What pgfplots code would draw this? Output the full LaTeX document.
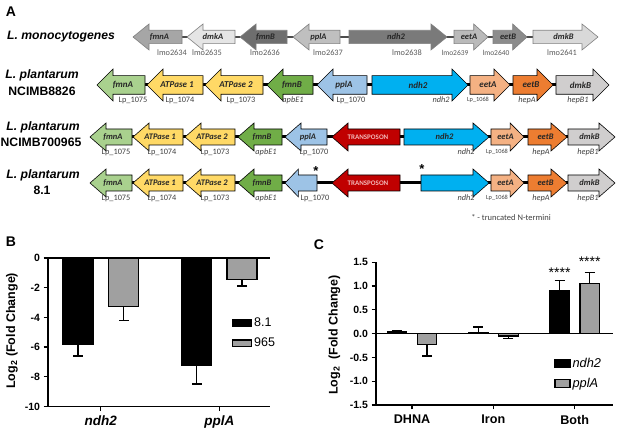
\documentclass[border=0pt]{standalone}
\usepackage{pgfplots}
\pgfplotsset{compat=1.18}
\usepackage{fontspec}
\setmainfont{Liberation Sans}
\newfontfamily\calfont{Carlito}
\definecolor{lgreen}{HTML}{A9D18E}
\definecolor{ayellow}{HTML}{FFD966}
\definecolor{dgreen}{HTML}{70AD47}
\definecolor{lblue}{HTML}{9DC3E6}
\definecolor{cyan2}{HTML}{00B0F0}
\definecolor{peach}{HTML}{F4B183}
\definecolor{orng}{HTML}{ED7D31}
\definecolor{lgray}{HTML}{D0CECE}
\definecolor{tred}{HTML}{C00000}
\definecolor{pinktxt}{HTML}{F2B8B8}
\definecolor{locgray}{HTML}{404040}
\definecolor{loc1}{HTML}{5A5A5A}
\definecolor{barg}{HTML}{A0A0A0}
% #1 tail, #2 tip, #3 y, #4 head half height, #5 body half height, #6 fill, #7 draw, #8 label
\newcommand{\gene}[8]{%
\draw[fill=#6,draw=#7,line width=0.6pt,line join=miter]
 (#1,{#3-#5}) -- ({#2-sign(#2-#1)*min(16,0.42*abs(#2-#1))},{#3-#5})
 -- ({#2-sign(#2-#1)*min(16,0.42*abs(#2-#1))},{#3-#4}) -- (#2,#3)
 -- ({#2-sign(#2-#1)*min(16,0.42*abs(#2-#1))},{#3+#4})
 -- ({#2-sign(#2-#1)*min(16,0.42*abs(#2-#1))},{#3+#5}) -- (#1,{#3+#5}) -- cycle;
\node[inner sep=0pt,text=black!85] at ({(#1+#2)/2-sign(#2-#1)*2},#3) {#8};}
\newcommand{\ga}[1]{{\calfont\bfseries\itshape\fontsize{8.5}{9}\selectfont #1}}
\newcommand{\gb}[1]{{\calfont\bfseries\itshape\fontsize{9}{10}\selectfont #1}}
\newcommand{\gc}[1]{{\calfont\bfseries\itshape\fontsize{8.5}{9}\selectfont #1}}
\newcommand{\tp}{{\calfont\bfseries\fontsize{7}{8}\selectfont\color{pinktxt}TRANSPOSON}}
\newcommand{\lc}[3]{\node[inner sep=0pt,text=locgray,font=\calfont\fontsize{8.3}{9}\selectfont] at (#1,#2) {#3};}
\newcommand{\lci}[3]{\node[inner sep=0pt,text=locgray,font=\calfont\itshape\fontsize{8.3}{9}\selectfont] at (#1,#2) {#3};}
\newcommand{\lcs}[3]{\node[inner sep=0pt,text=locgray,font=\calfont\fontsize{6.3}{7}\selectfont] at (#1,#2) {#3};}
\newcommand{\lo}[3]{\node[inner sep=0pt,text=loc1,font=\calfont\fontsize{8.3}{9}\selectfont] at (#1,#2) {#3};}
\newcommand{\rn}[3]{\node[inner sep=0pt,font=\fontsize{12.2}{13}\selectfont\bfseries\itshape] at (#1,#2) {#3};}
\newcommand{\rb}[3]{\node[inner sep=0pt,font=\fontsize{12.2}{13}\selectfont\bfseries] at (#1,#2) {#3};}
\pgfplotsset{
 gpstyle/.style={
  scale only axis, clip=false,
  axis x line=bottom, axis y line=left,
  axis line style={-,line width=1.2pt,black},
  tick align=outside, major tick length=4.5pt,
  tick style={line width=1.2pt,black},
  ybar,
  legend cell align=left,
  legend style={draw=none,fill=none,inner sep=0pt,outer sep=0pt,anchor=north west},
 },
 ebar/.style={error bars/.cd, y explicit, y dir=#1,
  error bar style={line width=1.2pt,black},
  error mark options={rotate=90,mark size=5pt,line width=1.2pt,black}},
}
\begin{document}
\begin{tikzpicture}
\path[use as bounding box] (0,0) rectangle (617pt,430pt);
\begin{scope}[x=1pt,y=-1pt,shift={(0pt,430pt)}]
% panel letters
\node[inner sep=0pt,font=\fontsize{14}{15}\selectfont\bfseries] at (11,12) {A};
\node[inner sep=0pt,font=\fontsize{14}{15}\selectfont\bfseries] at (11,242) {B};
\node[inner sep=0pt,font=\fontsize{14}{15}\selectfont\bfseries] at (319,245) {C};
% row names
\rn{61}{37}{L. monocytogenes}
\rn{42}{75}{L. plantarum}\rb{42}{91}{NCIMB8826}
\rn{43}{127}{L. plantarum}\rb{41}{142}{NCIMB700965}
\rn{43}{175}{L. plantarum}\rb{42}{190}{8.1}
% row 1
\draw[line width=1.5pt,black!70] (182,37) -- (533,37);
\gene{182}{133}{37}{13}{6.7}{black!35}{black!50}{\ga{fmnA}}
\gene{235}{187}{37}{13}{6.7}{black!10}{black!50}{\ga{dmkA}}
\gene{287}{240}{37}{13}{6.7}{black!57}{black!50}{\ga{fmnB}}
\gene{340}{293}{37}{13}{6.7}{black!25}{black!50}{\ga{pplA}}
\gene{349}{447}{37}{13}{6.7}{black!52}{black!50}{\ga{ndh2}}
\gene{454}{488}{37}{13}{6.7}{black!27}{black!50}{\ga{eetA}}
\gene{493}{527}{37}{13}{6.7}{black!45}{black!50}{\ga{eetB}}
\gene{533}{598}{37}{13}{6.7}{black!15}{black!50}{\ga{dmkB}}
\lo{172}{53}{lmo2634}\lo{207}{53}{lmo2635}\lo{265}{53}{lmo2636}\lo{328}{53}{lmo2637}
\lo{407}{53}{lmo2638}\lo{455}{53}{\fontsize{7.5}{8}\selectfont lmo2639}\lo{496}{53}{\fontsize{7.5}{8}\selectfont lmo2640}\lo{562}{53}{lmo2641}
% row 2
\draw[line width=3pt] (145,85) -- (556,85);
\gene{145}{97}{85}{16}{9.3}{lgreen}{black}{\gb{fmnA}}
\gene{203}{147}{85}{16}{9.3}{ayellow}{black}{\gb{ATPase 1}}
\gene{263}{205}{85}{16}{9.3}{ayellow}{black}{\gb{ATPase 2}}
\gene{313}{267}{85}{16}{9.3}{dgreen}{black}{\gb{fmnB}}
\gene{367}{317}{85}{16}{9.3}{lblue}{black}{\gb{pplA}}
\gene{372}{468}{85}{16}{9.3}{cyan2}{black}{\gb{ndh2}}
\gene{470}{510}{85}{16}{9.3}{peach}{black}{\gb{eetA}}
\gene{513}{553}{85}{16}{9.3}{orng}{black}{\gb{eetB}}
\gene{556}{609}{85}{16}{9.3}{lgray}{black}{\gb{dmkB}}
\lc{133}{100}{Lp\_1075}\lc{180}{100}{Lp\_1074}\lc{241}{100}{Lp\_1073}\lci{293}{100}{apbE1}
\lc{351}{100}{Lp\_1070}\lci{441}{100}{ndh2}\lcs{478}{100}{Lp\_1068}\lci{527}{100}{hepA}\lci{578}{100}{hepB1}
% row 3
\draw[line width=3pt] (132,137) -- (568,137);
\gene{132}{90}{137}{14}{8}{lgreen}{black}{\gc{fmnA}}
\gene{183}{133}{137}{14}{8}{ayellow}{black}{\gc{ATPase 1}}
\gene{235}{185}{137}{14}{8}{ayellow}{black}{\gc{ATPase 2}}
\gene{282}{238}{137}{14}{8}{dgreen}{black}{\gc{fmnB}}
\gene{327}{285}{137}{14}{8}{lblue}{black}{\gc{pplA}}
\gene{400}{332}{137}{14}{8}{tred}{black}{\tp}
\gene{404}{489}{137}{14}{8}{cyan2}{black}{\gc{ndh2}}
\gene{491}{524}{137}{14}{8}{peach}{black}{\gc{eetA}}
\gene{528}{567}{137}{14}{8}{orng}{black}{\gc{eetB}}
\gene{568}{615}{137}{14}{8}{lgray}{black}{\gc{dmkB}}
\lc{116}{152}{Lp\_1075}\lc{162}{152}{Lp\_1074}\lc{215}{152}{Lp\_1073}\lci{266}{152}{apbE1}
\lc{314}{152}{Lp\_1070}\lci{466}{152}{ndh2}\lcs{497}{152}{Lp\_1068}\lci{541}{152}{hepA}\lci{588}{152}{hepB1}
% row 4
\draw[line width=3pt] (132,183) -- (568,183);
\gene{132}{90}{183}{14}{8}{lgreen}{black}{\gc{fmnA}}
\gene{183}{133}{183}{14}{8}{ayellow}{black}{\gc{ATPase 1}}
\gene{235}{185}{183}{14}{8}{ayellow}{black}{\gc{ATPase 2}}
\gene{282}{238}{183}{14}{8}{dgreen}{black}{\gc{fmnB}}
\gene{317}{285}{183}{14}{8}{lblue}{black}{}
\gene{400}{332}{183}{14}{8}{tred}{black}{\tp}
\gene{421}{489}{183}{14}{8}{cyan2}{black}{}
\gene{491}{524}{183}{14}{8}{peach}{black}{\gc{eetA}}
\gene{528}{567}{183}{14}{8}{orng}{black}{\gc{eetB}}
\gene{568}{615}{183}{14}{8}{lgray}{black}{\gc{dmkB}}
\lc{116}{198}{Lp\_1075}\lc{162}{198}{Lp\_1074}\lc{215}{198}{Lp\_1073}\lci{266}{198}{apbE1}
\lc{315}{198}{Lp\_1070}\lci{466}{198}{ndh2}\lcs{497}{198}{Lp\_1068}\lci{541}{198}{hepA}\lci{588}{198}{hepB1}
\node[inner sep=0pt,font=\fontsize{13}{14}\selectfont\bfseries] at (316,171) {*};
\node[inner sep=0pt,font=\fontsize{13}{14}\selectfont\bfseries] at (422,169) {*};
\node[inner sep=0pt,text=locgray,font=\calfont\fontsize{8.5}{9}\selectfont] at (511,218) {* - truncated N-termini};
\end{scope}

% ---------- Panel B ----------
\begin{axis}[gpstyle,
 at={(48pt,23.5pt)}, anchor=south west, width=222pt, height=148.5pt,
 xmin=-0.445, xmax=1.428, ymin=-10, ymax=0,
 bar width=0.254,
 xtick={0,1}, xticklabels={ndh2,pplA},
 xticklabel style={font=\fontsize{13.5}{15}\selectfont\bfseries\itshape, yshift=-1.5pt},
 ytick={-10,-8,-6,-4,-2,0}, yticklabels={-10,-8,-6,-4,-2,0},
 yticklabel style={font=\fontsize{10.5}{12}\selectfont\bfseries},
 ylabel={Log\textsubscript{2} (Fold Change)},
 ylabel style={font=\fontsize{12.5}{14}\selectfont\bfseries, at={(axis description cs:-0.162,0.51)}, anchor=center},
 legend style={at={(axis description cs:0.829,0.61)}, font=\fontsize{12.5}{14}\selectfont, row sep=6pt},
]
\addplot[black, line width=1.2pt, forget plot, sharp plot] coordinates {(-0.445,0) (1.428,0)};
\addplot[bar shift=-0.192, fill=black, draw=black, line width=1.2pt, forget plot, ebar=minus]
 coordinates {(0,-5.85) -= (0,0.75) (1,-7.24) -= (0,1.24)};
\addplot[bar shift=0.192, fill=barg, draw=black, line width=1.2pt, forget plot, ebar=minus]
 coordinates {(0,-3.28) -= (0,0.95) (1,-1.47) -= (0,0.41)};
\addlegendimage{legend image code/.code={\draw[fill=black,draw=black,line width=1.1pt] (0pt,-3.3pt) rectangle (19pt,3.3pt);}}
\addlegendentry{8.1}
\addlegendimage{legend image code/.code={\draw[fill=barg,draw=black,line width=1.1pt] (0pt,-3.3pt) rectangle (19pt,3.3pt);}}
\addlegendentry{965}
\end{axis}

% ---------- Panel C ----------
\begin{axis}[gpstyle,
 at={(376pt,25pt)}, anchor=south west, width=237pt, height=142.7pt,
 xmin=-0.443, xmax=2.472, ymin=-1.5, ymax=1.5,
 bar width=0.24,
 xtick={0,1,2}, xticklabels={DHNA,Iron,Both},
 xticklabel style={font=\fontsize{12.6}{15}\selectfont\bfseries, yshift=-2pt},
 ytick={-1.5,-1,-0.5,0,0.5,1,1.5}, yticklabels={-1.5,-1.0,-0.5,0.0,0.5,1.0,1.5},
 yticklabel style={font=\fontsize{10.5}{12}\selectfont\bfseries},
 ylabel={Log\textsubscript{2}\ \ (Fold Change)},
 ylabel style={font=\fontsize{12.5}{14}\selectfont\bfseries, at={(axis description cs:-0.175,0.49)}, anchor=center},
 legend style={at={(axis description cs:0.753,0.345)}, font=\fontsize{12.8}{14}\selectfont\itshape, row sep=6pt},
]
\addplot[black, line width=1.2pt, forget plot, sharp plot] coordinates {(-0.443,0) (2.472,0)};
\addplot[bar shift=-0.185, fill=black, draw=black, line width=1.2pt, forget plot, ebar=plus]
 coordinates {(0,0.04) += (0,0.03) (1,0.03) += (0,0.11) (2,0.90) += (0,0.21)};
\addplot[bar shift=0.185, fill=barg, draw=black, line width=1.2pt, forget plot, ebar=minus]
 coordinates {(0,-0.23) -= (0,0.24) (1,-0.05) -= (0,0.05)};
\addplot[bar shift=0.185, fill=barg, draw=black, line width=1.2pt, forget plot, ebar=plus]
 coordinates {(2,1.05) += (0,0.23)};
\node[font=\fontsize{14}{15}\selectfont, inner sep=0pt] at (axis cs:1.815,1.28) {****};
\node[font=\fontsize{14}{15}\selectfont, inner sep=0pt] at (axis cs:2.185,1.51) {****};
\addlegendimage{legend image code/.code={\draw[fill=black,draw=black,line width=1.1pt] (0pt,-4pt) rectangle (15pt,4pt);}}
\addlegendentry{ndh2}
\addlegendimage{legend image code/.code={\draw[fill=barg,draw=black,line width=1.1pt] (0pt,-4pt) rectangle (15pt,4pt);}}
\addlegendentry{pplA}
\end{axis}
\end{tikzpicture}
\end{document}
